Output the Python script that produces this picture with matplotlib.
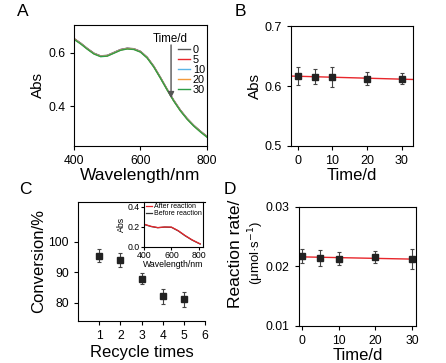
import numpy as np
import matplotlib
matplotlib.use("Agg")
import matplotlib.pyplot as plt

plt.rcParams['font.family'] = ['Liberation Sans', 'DejaVu Sans']
plt.rcParams['axes.linewidth'] = 0.8
plt.rcParams['xtick.major.size'] = 3
plt.rcParams['ytick.major.size'] = 3
plt.rcParams['xtick.major.width'] = 0.8
plt.rcParams['ytick.major.width'] = 0.8

## Data

# panel A: spectra over storage time
wavelength = [400, 420, 440, 460, 480, 500, 520, 540, 560, 580, 600,
              620, 640, 660, 680, 700, 720, 740, 760, 780, 800]
abs_0d = [0.654, 0.637, 0.617, 0.599, 0.589, 0.591, 0.602, 0.613, 0.618, 0.616, 0.606,
          0.584, 0.550, 0.508, 0.464, 0.422, 0.385, 0.354, 0.328, 0.306, 0.286]
abs_5d = [0.654, 0.636, 0.616, 0.598, 0.588, 0.590, 0.601, 0.612, 0.617, 0.615, 0.605,
          0.583, 0.549, 0.507, 0.463, 0.421, 0.384, 0.353, 0.327, 0.305, 0.285]
abs_10d = [0.653, 0.636, 0.616, 0.598, 0.588, 0.590, 0.601, 0.612, 0.617, 0.615, 0.605,
           0.583, 0.549, 0.507, 0.463, 0.421, 0.384, 0.353, 0.327, 0.305, 0.285]
abs_20d = [0.652, 0.635, 0.615, 0.597, 0.587, 0.589, 0.600, 0.611, 0.616, 0.614, 0.604,
           0.582, 0.548, 0.506, 0.462, 0.420, 0.383, 0.352, 0.326, 0.304, 0.284]
abs_30d = [0.651, 0.634, 0.614, 0.596, 0.586, 0.588, 0.599, 0.610, 0.615, 0.613, 0.603,
           0.581, 0.547, 0.505, 0.461, 0.419, 0.382, 0.351, 0.325, 0.303, 0.283]
spectra = [abs_0d, abs_5d, abs_10d, abs_20d, abs_30d]
time_labels = ["0", "5", "10", "20", "30"]
spec_colors = ["#555555", "#e8262b", "#5ab4e6", "#f39a3c", "#2e9e47"]

# panel B: absorbance at peak vs time
days = [0, 5, 10, 20, 30]
peak_abs = [0.6167, 0.6156, 0.6145, 0.6122, 0.6121]
peak_abs_err = [0.0147, 0.012, 0.0167, 0.0106, 0.0094]

# panel C: recycling
cycles = [1, 2, 3, 4, 5]
conversion = [95.4, 93.8, 87.8, 82.0, 81.1]
conversion_err = [2.0, 2.3, 1.8, 2.5, 2.4]

# panel C inset: spectra before / after reaction
inset_wl = [400, 450, 500, 550, 600, 650, 700, 750, 800, 810]
inset_after = [0.225, 0.204, 0.191, 0.197, 0.196, 0.160, 0.112, 0.070, 0.036, 0.030]
inset_before = [0.223, 0.202, 0.190, 0.196, 0.194, 0.158, 0.110, 0.068, 0.034, 0.028]

# panel D: reaction rate vs time
rate = [0.02173, 0.02146, 0.0213, 0.02156, 0.02117]
rate_err = [0.00112, 0.00134, 0.00112, 0.00098, 0.00168]

fig = plt.figure(figsize=(4.46, 3.63), dpi=100)

lab_fs = 12
err_style = dict(fmt="s", color="#222222", ms=4.5, ecolor="#444444",
                 elinewidth=0.8, capsize=1.5, capthick=0.8)

## A
axA = fig.add_axes([0.166, 0.598, 0.298, 0.333])
for y, lab, c in zip(spectra, time_labels, spec_colors):
    axA.plot(wavelength, y, color=c, lw=1.0, label=lab)
axA.set_xlim(400, 800)
axA.set_ylim(0.25, 0.705)
axA.set_xticks([400, 600, 800])
axA.set_yticks([0.4, 0.6])
axA.tick_params(labelsize=8.7)
axA.set_xlabel("Wavelength/nm", fontsize=12.5, labelpad=1)
axA.set_ylabel("Abs", fontsize=11, labelpad=2)
axA.legend(loc="upper right", bbox_to_anchor=(1.01, 0.86), frameon=False,
           fontsize=7.8, handlelength=1.1, handletextpad=0.3, labelspacing=0.0,
           borderpad=0.2, borderaxespad=0.1)
axA.text(0.72, 0.885, "Time/d", transform=axA.transAxes, fontsize=8.3,
         ha="center", va="center")
axA.annotate("", xy=(692, 0.43), xytext=(692, 0.63),
             arrowprops=dict(arrowstyle="-|>", color="#555555", lw=1.0,
                             mutation_scale=9, shrinkA=0, shrinkB=0))

## B
axB = fig.add_axes([0.652, 0.598, 0.274, 0.330])
coef_b = np.polyfit(days, peak_abs, 1)
xb = np.array([-1.5, 33.0])
axB.plot(xb, np.polyval(coef_b, xb), color="#e8262b", lw=1.0)
axB.errorbar(days, peak_abs, yerr=peak_abs_err, **err_style)
axB.set_xlim(-2, 33.2)
axB.set_ylim(0.5, 0.7)
axB.set_xticks([0, 10, 20, 30])
axB.set_yticks([0.5, 0.6, 0.7])
axB.tick_params(labelsize=9)
axB.set_xlabel("Time/d", fontsize=lab_fs, labelpad=1)
axB.set_ylabel("Abs", fontsize=11, labelpad=2)

## C
axC = fig.add_axes([0.175, 0.116, 0.285, 0.328])
axC.errorbar(cycles, conversion, yerr=conversion_err, **err_style)
axC.set_xlim(0, 6)
axC.set_ylim(74, 113)
axC.set_xticks([1, 2, 3, 4, 5, 6])
axC.set_yticks([80, 90, 100])
axC.spines["right"].set_visible(False)
axC.tick_params(labelsize=8.7)
axC.set_xlabel("Recycle times", fontsize=lab_fs, labelpad=2)
axC.set_ylabel("Conversion/%", fontsize=lab_fs, labelpad=2)

# inset
axI = fig.add_axes([0.323, 0.320, 0.132, 0.124])
axI.plot(inset_wl, inset_before, color="#333333", lw=0.9, label="Before reaction")
axI.plot(inset_wl, inset_after, color="#e8262b", lw=0.9, label="After reaction")
axI.set_xlim(400, 830)
axI.set_ylim(0, 0.447)
axI.set_xticks([400, 600, 800])
axI.set_yticks([0.0, 0.2, 0.4])
axI.tick_params(labelsize=6.3, length=2, pad=1)
axI.set_xlabel("Wavelength/nm", fontsize=6.3, labelpad=0)
axI.set_ylabel("Abs", fontsize=6.3, labelpad=1)
h, l = axI.get_legend_handles_labels()
axI.legend(h[::-1], l[::-1], loc="upper right", frameon=False, fontsize=5,
           handlelength=0.8, handletextpad=0.3, labelspacing=0.0,
           borderpad=0.1, borderaxespad=0.1)

## D
axD = fig.add_axes([0.670, 0.102, 0.263, 0.328])
coef_d = np.polyfit(days, rate, 1)
xd = np.array([0.0, 30.0])
axD.plot(xd, np.polyval(coef_d, xd), color="#e8262b", lw=1.0)
axD.errorbar(days, rate, yerr=rate_err, **err_style)
axD.set_xlim(-0.9, 31.1)
axD.set_ylim(0.01, 0.03)
axD.set_xticks([0, 10, 20, 30])
axD.set_yticks([0.01, 0.02, 0.03])
axD.tick_params(labelsize=8.7)
axD.set_xlabel("Time/d", fontsize=lab_fs, labelpad=1)
axD.text(-0.54, 0.61, "Reaction rate/", transform=axD.transAxes, rotation=90,
         fontsize=12.5, ha="center", va="center")
axD.text(-0.36, 0.61, "(\u03bcmol\u00b7s$^{-1}$)", transform=axD.transAxes, rotation=90,
         fontsize=9.5, ha="center", va="center")

# panel letters
for lab, (x, y) in zip("ABCD", [(23, 12), (240, 12), (25, 190), (230, 190)]):
    fig.text(x / 446, 1 - y / 363, lab, fontsize=12.5, ha="center", va="center")

fig.savefig("out.png", dpi=100)
